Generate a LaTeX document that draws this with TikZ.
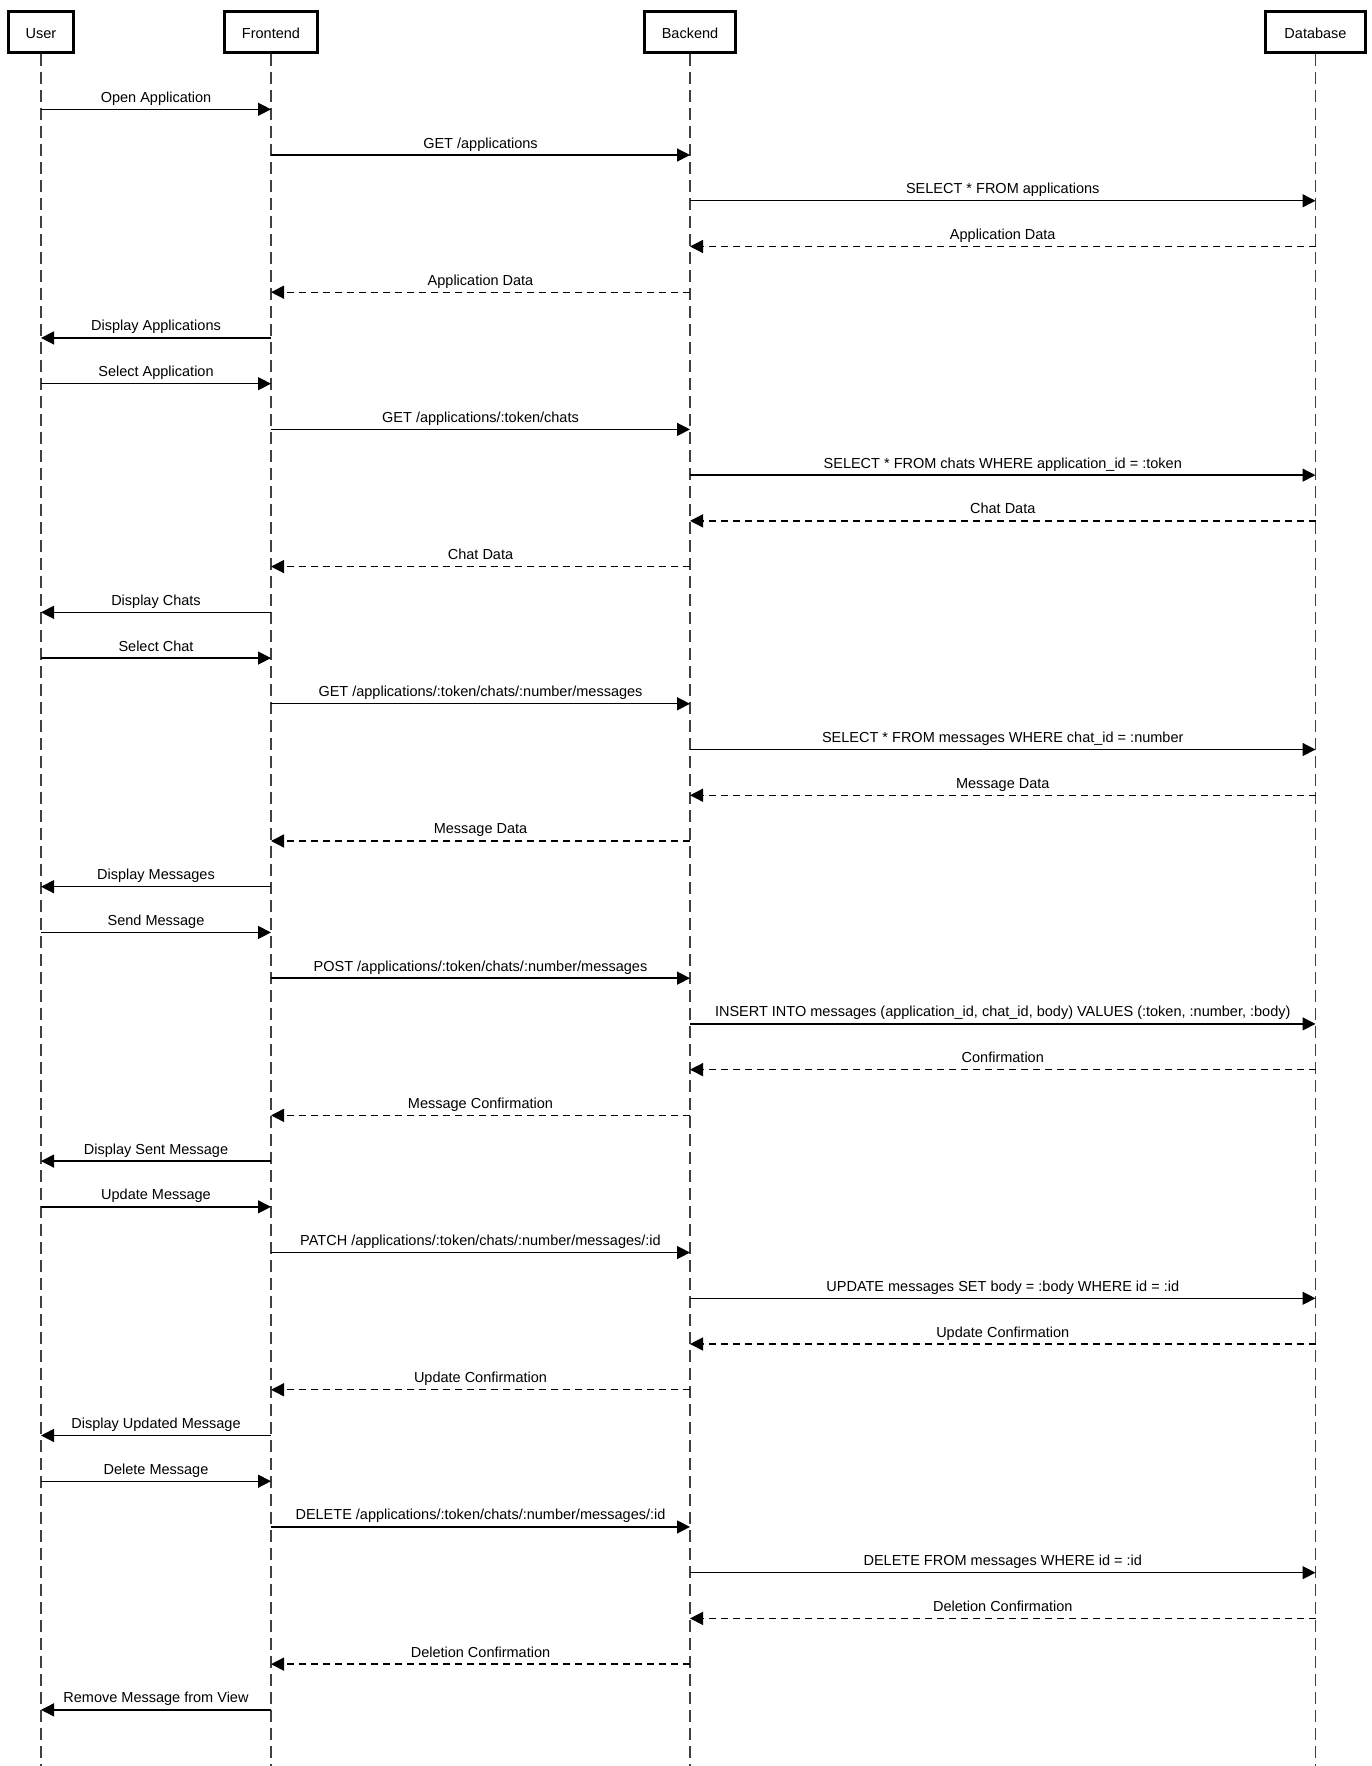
\documentclass[tikz,border=0pt]{standalone}
\usepackage{fontspec}
\setmainfont{Liberation Sans}
\usetikzlibrary{arrows.meta}

\tikzset{
  actor/.style={draw=black, line width=3pt, fill=white, minimum height=41pt,
    inner sep=0pt, text height=14pt, text depth=0pt,
    font=\fontsize{14.5}{17}\selectfont},
  lifeline/.style={draw=black!75, line width=1.6pt, dash pattern=on 12pt off 6pt},
  call/.style={draw=black, line width=1.4pt, -{Triangle[length=13pt,width=13pt]}},
  reply/.style={call, dash pattern=on 7pt off 5pt},
  msglabel/.style={midway, anchor=base, yshift=7pt, inner sep=0pt,
    font=\fontsize{14.5}{17}\selectfont}
}

\begin{document}
\begin{tikzpicture}[x=1pt, y=-1pt]
  \useasboundingbox (0,0) rectangle (1372,1766);
  \fill[white] (0,0) rectangle (1372,1766);

  % participants
  \node[actor, minimum width=65pt]  (U) at (41,32)     {User};
  \node[actor, minimum width=93pt]  (F) at (271,32)    {Frontend};
  \node[actor, minimum width=91pt]  (B) at (690,32)    {Backend};
  \node[actor, minimum width=100pt] (D) at (1315.5,32) {Database};

  % lifelines
  \foreach \p in {U,F,B,D} {
    \coordinate (\p end) at (\p |- 0,1766);
    \draw[lifeline] (\p.south) -- (\p end);
  }

  % messages
  \foreach \i/\a/\b/\s/\t in {
     1/U/F/call/{Open Application},
     2/F/B/call/{GET /applications},
     3/B/D/call/{SELECT * FROM applications},
     4/D/B/reply/{Application Data},
     5/B/F/reply/{Application Data},
     6/F/U/call/{Display Applications},
     7/U/F/call/{Select Application},
     8/F/B/call/{GET /applications/:token/chats},
     9/B/D/call/{SELECT * FROM chats WHERE application\_id = :token},
    10/D/B/reply/{Chat Data},
    11/B/F/reply/{Chat Data},
    12/F/U/call/{Display Chats},
    13/U/F/call/{Select Chat},
    14/F/B/call/{GET /applications/:token/chats/:number/messages},
    15/B/D/call/{SELECT * FROM messages WHERE chat\_id = :number},
    16/D/B/reply/{Message Data},
    17/B/F/reply/{Message Data},
    18/F/U/call/{Display Messages},
    19/U/F/call/{Send Message},
    20/F/B/call/{POST /applications/:token/chats/:number/messages},
    21/B/D/call/{INSERT INTO messages (application\_id, chat\_id, body) VALUES (:token, :number, :body)},
    22/D/B/reply/{Confirmation},
    23/B/F/reply/{Message Confirmation},
    24/F/U/call/{Display Sent Message},
    25/U/F/call/{Update Message},
    26/F/B/call/{PATCH /applications/:token/chats/:number/messages/:id},
    27/B/D/call/{UPDATE messages SET body = :body WHERE id = :id},
    28/D/B/reply/{Update Confirmation},
    29/B/F/reply/{Update Confirmation},
    30/F/U/call/{Display Updated Message},
    31/U/F/call/{Delete Message},
    32/F/B/call/{DELETE /applications/:token/chats/:number/messages/:id},
    33/B/D/call/{DELETE FROM messages WHERE id = :id},
    34/D/B/reply/{Deletion Confirmation},
    35/B/F/reply/{Deletion Confirmation},
    36/F/U/call/{Remove Message from View}} {
    \pgfmathsetmacro\yy{109.3+(\i-1)*45.73}
    \coordinate (m\i from) at (\a |- 0,\yy);
    \coordinate (m\i to)   at (\b |- 0,\yy);
    \draw[\s] (m\i from) -- node[msglabel] {\t} (m\i to);
  }
\end{tikzpicture}
\end{document}
